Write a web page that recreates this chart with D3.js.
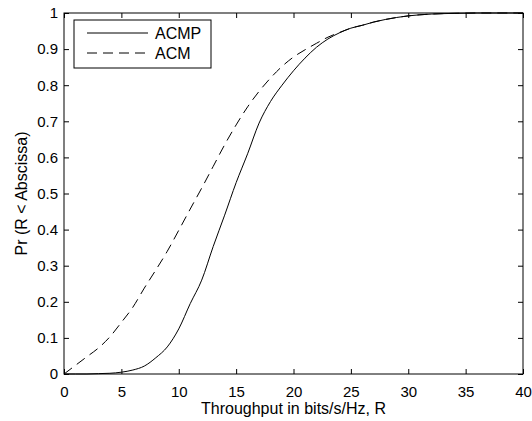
<html>
<head>
  <meta charset="utf-8">
  <script src="https://d3js.org/d3.v7.min.js"></script>
  <script>
    // throughput grid (bits/s/Hz) and the two CDFs
    var rate = [0, 1, 2, 3, 4, 5, 6, 7, 8, 9, 10, 11, 12, 13, 14, 15, 16, 17, 18, 19, 20,
                21, 22, 23, 24, 25, 26, 27, 28, 30, 32, 34, 36, 40];
    var acmp = [0, 0, 0, 0.001, 0.002, 0.005, 0.011, 0.022, 0.045, 0.075, 0.125, 0.195, 0.26,
                0.353, 0.44, 0.53, 0.61, 0.695, 0.755, 0.80, 0.84, 0.875, 0.905, 0.928, 0.945,
                0.958, 0.966, 0.975, 0.982, 0.992, 0.997, 0.999, 1, 1];
    var acm  = [0, 0.024, 0.048, 0.072, 0.103, 0.143, 0.185, 0.238, 0.288, 0.34, 0.398, 0.457,
                0.515, 0.575, 0.635, 0.69, 0.74, 0.783, 0.82, 0.852, 0.878, 0.898, 0.916, 0.933,
                0.946, 0.958, 0.966, 0.975, 0.982, 0.992, 0.997, 0.999, 1, 1];
    var xTicks = [0, 5, 10, 15, 20, 25, 30, 35, 40];
    var yTicks = [0, 0.1, 0.2, 0.3, 0.4, 0.5, 0.6, 0.7, 0.8, 0.9, 1];
    var seriesNames = ["ACMP", "ACM"];

    function makePlot() {
      var m = { left: 64, top: 13 }, w = 459, h = 361, tk = 5;
      var font = "'Liberation Sans', Arial, sans-serif";

      var svg = d3.select("#plot");
      var g = svg.append("g").attr("transform", "translate(" + m.left + "," + m.top + ")");

      var x = d3.scaleLinear().domain([0, 40]).range([0, w]);
      var y = d3.scaleLinear().domain([0, 1]).range([h, 0]);

      // inward ticks on all four sides, MATLAB style
      var axB = d3.axisBottom(x).tickValues(xTicks).tickSizeInner(-tk).tickSizeOuter(0).tickPadding(12);
      var axL = d3.axisLeft(y).tickValues(yTicks).tickSizeInner(-tk).tickSizeOuter(0).tickPadding(6)
          .tickFormat(d3.format("~g"));
      var axT = d3.axisTop(x).tickValues(xTicks).tickSizeInner(-tk).tickSizeOuter(0).tickFormat("");
      var axR = d3.axisRight(y).tickValues(yTicks).tickSizeInner(-tk).tickSizeOuter(0).tickFormat("");

      g.append("g").attr("transform", "translate(0," + h + ")").call(axB);
      g.append("g").call(axL);
      g.append("g").call(axT);
      g.append("g").attr("transform", "translate(" + w + ",0)").call(axR);

      g.selectAll(".domain").remove();
      g.selectAll(".tick line").attr("stroke", "#000");
      g.selectAll(".tick text").attr("fill", "#000").attr("font-family", font).attr("font-size", 15);

      g.append("rect").attr("width", w).attr("height", h)
          .attr("fill", "none").attr("stroke", "#000").attr("stroke-width", 1);

      var line = d3.line().x(function(d) { return x(d[0]); }).y(function(d) { return y(d[1]); })
          .curve(d3.curveMonotoneX);

      var series = [
        { name: seriesNames[0], vals: acmp, dash: null },
        { name: seriesNames[1], vals: acm, dash: "10,6" }
      ];

      g.selectAll("path.curve").data(series).enter().append("path")
          .attr("class", "curve")
          .attr("d", function(s) { return line(rate.map(function(r, i) { return [r, s.vals[i]]; })); })
          .attr("fill", "none").attr("stroke", "#000").attr("stroke-width", 1)
          .attr("stroke-dasharray", function(s) { return s.dash; });

      // legend
      var lg = svg.append("g").attr("transform", "translate(74,20)");
      lg.append("rect").attr("width", 137).attr("height", 48)
          .attr("fill", "#fff").attr("stroke", "#000").attr("stroke-width", 1);
      var items = lg.selectAll("g.item").data(series).enter().append("g")
          .attr("transform", function(d, i) { return "translate(0," + (13 + i * 20) + ")"; });
      items.append("line").attr("x1", 13).attr("x2", 74).attr("y1", 0).attr("y2", 0)
          .attr("stroke", "#000").attr("stroke-dasharray", function(d) { return d.dash; });
      items.append("text").attr("x", 81).attr("y", 6).text(function(d) { return d.name; })
          .attr("font-family", font).attr("font-size", 16);

      // axis labels
      svg.append("text").attr("x", m.left + w / 2).attr("y", 414)
          .attr("text-anchor", "middle").attr("font-family", font).attr("font-size", 16)
          .text("Throughput in bits/s/Hz, R");
      svg.append("text").attr("transform", "translate(27," + (m.top + h / 2) + ") rotate(-90)")
          .attr("text-anchor", "middle").attr("font-family", font).attr("font-size", 16)
          .text("Pr (R < Abscissa)");
    }
  </script>
</head>

<body onload="makePlot()" style="margin:0; background:#fff">
  <svg id="plot" width="532" height="421" style="background:#fff; display:block"></svg>
</body>
</html>
